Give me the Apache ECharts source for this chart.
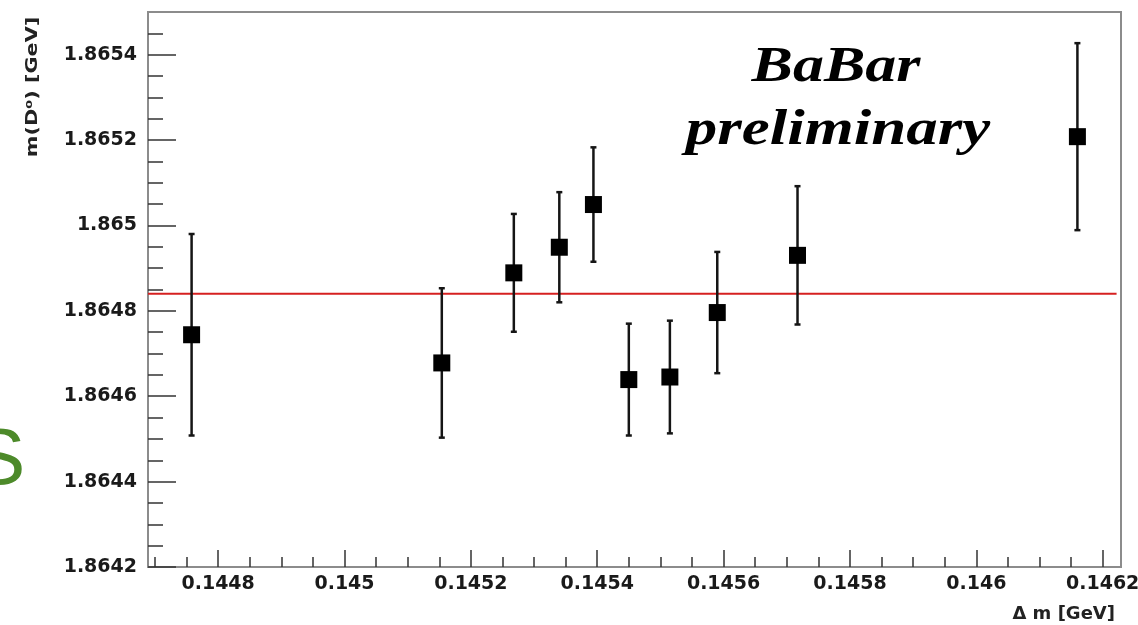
<!DOCTYPE html>
<html>
<head>
<meta charset="utf-8">
<script src="https://cdn.jsdelivr.net/npm/echarts@6/dist/echarts.min.js"></script>
<style>
  html, body { margin: 0; padding: 0; background: #fff; }
  #chart { width: 1138px; height: 625px; }
</style>
</head>
<body>
<div id="chart"></div>
<script>
// ---- data ----
const xValues = [0.144758, 0.145154, 0.145268, 0.145340, 0.145394, 0.145450, 0.145515, 0.145590, 0.145717, 0.146160];
const yValues = [1.864744, 1.864678, 1.864889, 1.864949, 1.865049, 1.864639, 1.864645, 1.864796, 1.864930, 1.865208];
const yErrors = [0.000236, 0.000175, 0.000138, 0.000129, 0.000134, 0.000131, 0.000132, 0.000142, 0.000162, 0.000219];
const fitValue = 1.86484;
const xTickValues = [0.1448, 0.145, 0.1452, 0.1454, 0.1456, 0.1458, 0.146, 0.1462];
const yTickValues = [1.8642, 1.8644, 1.8646, 1.8648, 1.865, 1.8652, 1.8654];
const xRange = [0.144689, 0.146229];
const yRange = [1.8642, 1.8655];
const fitRange = [0.144689, 0.146222];

// minor ticks: each major interval split into 4
function minorTicks(lo, hi, step) {
  const out = [];
  const a = Math.ceil(lo / step - 1e-6), b = Math.floor(hi / step + 1e-6);
  for (let i = a; i <= b; i++) {
    const v = +(i * step).toFixed(6);
    if (v > lo + 1e-9 && v < hi - 1e-9) out.push(v);
  }
  return out;
}
const xMinor = minorTicks(xRange[0], xRange[1], 0.00005);
const yMinor = minorTicks(yRange[0], yRange[1], 0.00005);

const points = xValues.map((x, i) => [x, yValues[i], yErrors[i]]);

const tickStyle = { color: '#333', width: 1.5 };
const labelFont = { fontFamily: 'DejaVu Sans', fontWeight: 'bold', fontSize: 19, color: '#1a1a1a' };

const chart = echarts.init(document.getElementById('chart'), null, { renderer: 'canvas' });
chart.setOption({
  animation: false,
  backgroundColor: '#fff',
  grid: {
    left: 148, top: 12, right: 17, bottom: 58,
    outerBoundsMode: 'none',
    containLabel: false,
    show: true, borderColor: '#8c8c8c', borderWidth: 2, backgroundColor: 'transparent'
  },
  xAxis: [
    {
      type: 'value', min: xRange[0], max: xRange[1], position: 'bottom',
      axisLine: { show: true, lineStyle: { color: '#8c8c8c', width: 2 } },
      axisTick: { show: true, inside: true, length: 17, lineStyle: tickStyle, customValues: xTickValues },
      axisLabel: Object.assign({ customValues: xTickValues, margin: 8, hideOverlap: false }, labelFont),
      splitLine: { show: false }
    },
    {
      type: 'value', min: xRange[0], max: xRange[1], position: 'bottom',
      axisLine: { show: false },
      axisTick: { show: true, inside: true, length: 10, lineStyle: tickStyle, customValues: xMinor },
      axisLabel: { show: false },
      splitLine: { show: false }
    }
  ],
  yAxis: [
    {
      type: 'value', min: yRange[0], max: yRange[1], position: 'left',
      axisLine: { show: true, lineStyle: { color: '#8c8c8c', width: 2 } },
      axisTick: { show: true, inside: true, length: 28, lineStyle: tickStyle, customValues: yTickValues },
      axisLabel: Object.assign({ customValues: yTickValues, margin: 11 }, labelFont),
      splitLine: { show: false }
    },
    {
      type: 'value', min: yRange[0], max: yRange[1], position: 'left',
      axisLine: { show: false },
      axisTick: { show: true, inside: true, length: 15, lineStyle: tickStyle, customValues: yMinor },
      axisLabel: { show: false },
      splitLine: { show: false }
    }
  ],
  series: [
    {
      type: 'line',
      xAxisIndex: 0, yAxisIndex: 0,
      data: [[fitRange[0], fitValue], [fitRange[1], fitValue]],
      symbol: 'none',
      lineStyle: { color: '#d62020', width: 2 },
      silent: true,
      z: 2
    },
    {
      type: 'custom',
      xAxisIndex: 0, yAxisIndex: 0,
      data: points,
      z: 3,
      renderItem: function (params, api) {
        const x = api.value(0), y = api.value(1), e = api.value(2);
        const top = api.coord([x, y + e]);
        const bot = api.coord([x, y - e]);
        const cap = 3;
        const st = { stroke: '#151515', lineWidth: 2.5 };
        return {
          type: 'group',
          children: [
            { type: 'line', shape: { x1: top[0], y1: top[1], x2: bot[0], y2: bot[1] }, style: st },
            { type: 'line', shape: { x1: top[0] - cap, y1: top[1], x2: top[0] + cap, y2: top[1] }, style: st },
            { type: 'line', shape: { x1: bot[0] - cap, y1: bot[1], x2: bot[0] + cap, y2: bot[1] }, style: st }
          ]
        };
      }
    },
    {
      type: 'scatter',
      xAxisIndex: 0, yAxisIndex: 0,
      data: points.map(p => [p[0], p[1]]),
      symbol: 'rect',
      symbolSize: 17,
      itemStyle: { color: '#000', opacity: 1 },
      z: 4
    }
  ],
  graphic: [
    {
      type: 'text', x: 836, y: 68, scaleX: 1.24,
      style: { text: 'BaBar', font: 'italic bold 50px "Liberation Serif"', fill: '#000', textAlign: 'center', textVerticalAlign: 'middle' }
    },
    {
      type: 'text', x: 838, y: 131, scaleX: 1.26,
      style: { text: 'preliminary', font: 'italic bold 50px "Liberation Serif"', fill: '#000', textAlign: 'center', textVerticalAlign: 'middle' }
    },
    {
      type: 'text', x: 33, y: 87, rotation: Math.PI / 2, scaleX: 1.3,
      style: { text: 'm(D⁰) [GeV]', font: 'bold 16px "DejaVu Sans"', fill: '#222', textAlign: 'center', textVerticalAlign: 'middle' }
    },
    {
      type: 'text', x: 1115, y: 614,
      style: { text: 'Δ m [GeV]', font: 'bold 18px "DejaVu Sans"', fill: '#222', textAlign: 'right', textVerticalAlign: 'middle' }
    },
    {
      type: 'text', x: -28, y: 462,
      style: { text: 'S', font: '80px "Liberation Sans"', fill: '#4d8a2a', textAlign: 'left', textVerticalAlign: 'middle' }
    }
  ]
});
</script>
</body>
</html>
